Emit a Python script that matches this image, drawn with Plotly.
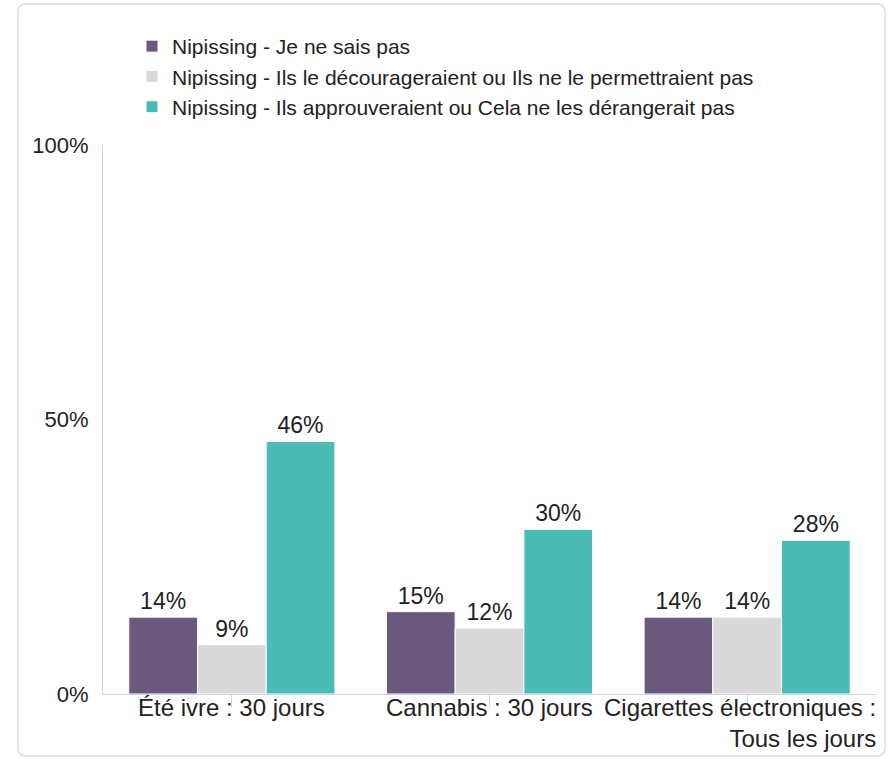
import plotly.graph_objects as go

# Survey results: attitude of parents/guardians by behaviour
categories = ["Été ivre : 30 jours", "Cannabis : 30 jours", "Cigarettes électroniques :<br>Tous les jours"]
series_names = [
    "Nipissing - Je ne sais pas",
    "Nipissing - Ils le décourageraient ou Ils ne le permettraient pas",
    "Nipissing - Ils approuveraient ou Cela ne les dérangerait pas",
]
series_values = [
    [14, 15, 14],
    [9, 12, 14],
    [46, 30, 28],
]
series_colors = ["#6a587d", "#d9d9d9", "#4bbcb5"]
y_ticks = [0, 50, 100]
y_tick_labels = ["0%", "50%", "100%"]

W, H = 895, 759
L, R, T, B = 103, 19, 145, 65
plot_w = W - L - R
plot_h = H - T - B


def px_x(p):
    return (p - L) / plot_w


def px_y(p):
    return (H - B - p) / plot_h


FONT = "Arial, 'Liberation Sans', sans-serif"
TEXT = "#222222"
AXIS = "#ccd6eb"

fig = go.Figure()
for name, vals, col in zip(series_names, series_values, series_colors):
    fig.add_trace(go.Bar(
        x=list(range(len(categories))),
        y=vals,
        name=name,
        marker=dict(color=col, line=dict(color="#ffffff", width=1)),
        text=[f"{v}%" for v in vals],
        textposition="outside",
        textfont=dict(size=23, color=TEXT, family=FONT),
        cliponaxis=False,
        legendgroup=name,
    ))

# category labels below the axis
for i, cat in enumerate(categories):
    right = i == len(categories) - 1
    fig.add_annotation(
        x=i, y=0, xref="x", yref="paper",
        text=cat, showarrow=False,
        xanchor="center", yanchor="top", yshift=2,
        xshift=-7 if right else 0,
        align="right" if right else "center",
        font=dict(size=24, color=TEXT, family=FONT),
    )

# outer rounded frame
x0, x1 = px_x(18), px_x(885)
y0, y1 = px_y(756), px_y(4)
rx, ry = 8 / plot_w, 8 / plot_h
path = (
    f"M {x0 + rx} {y1} L {x1 - rx} {y1} Q {x1} {y1} {x1} {y1 - ry} "
    f"L {x1} {y0 + ry} Q {x1} {y0} {x1 - rx} {y0} "
    f"L {x0 + rx} {y0} Q {x0} {y0} {x0} {y0 + ry} "
    f"L {x0} {y1 - ry} Q {x0} {y1} {x0 + rx} {y1} Z"
)
fig.add_shape(type="path", path=path, xref="paper", yref="paper",
              line=dict(color="#dddddd", width=1.5), layer="below")

fig.update_layout(
    width=W, height=H,
    margin=dict(l=L, r=R, t=T, b=B, pad=0),
    paper_bgcolor="#ffffff", plot_bgcolor="#ffffff",
    barmode="group", bargap=0.2, bargroupgap=0,
    font=dict(family=FONT, color=TEXT),
    showlegend=True,
    legend=dict(
        x=px_x(132), y=px_y(26), xanchor="left", yanchor="top",
        font=dict(size=21, color=TEXT, family=FONT),
        traceorder="grouped", tracegroupgap=0,
        bgcolor="rgba(0,0,0,0)",
    ),
    xaxis=dict(
        range=[-0.5, len(categories) - 0.5],
        tickvals=list(range(len(categories))),
        showticklabels=False,
        tickson="boundaries", ticks="outside", ticklen=12,
        tickcolor=AXIS, tickwidth=1,
        showline=True, linecolor=AXIS, linewidth=1,
        showgrid=False, zeroline=False, fixedrange=True,
    ),
    yaxis=dict(
        range=[0, 100],
        tickvals=y_ticks, ticktext=y_tick_labels,
        tickfont=dict(size=22, color=TEXT, family=FONT),
        ticks="", ticklabelstandoff=9,
        showline=True, linecolor=AXIS, linewidth=1,
        showgrid=False, zeroline=False, fixedrange=True,
    ),
)

fig.write_html("out.html")
